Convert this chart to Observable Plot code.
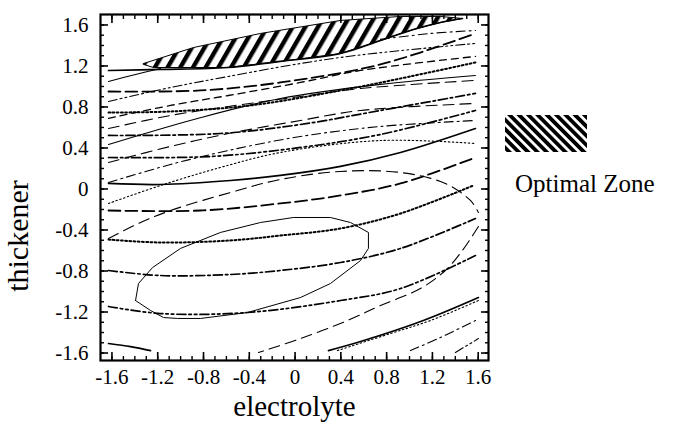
<!DOCTYPE html>
<html><head><meta charset="utf-8">
<script src="https://cdn.jsdelivr.net/npm/d3@7"></script>
<script src="https://cdn.jsdelivr.net/npm/@observablehq/plot@0.6"></script>
<style>
body{margin:0;background:#fff}
#wrap{position:relative;width:674px;height:432px}
#overlay{position:absolute;left:0;top:0;pointer-events:none}
</style>
</head><body><div id="wrap"><div id="chart"></div><svg id="overlay" width="674" height="432"></svg></div>
<script>
// ---- tick values and labels ----
const xTicks = [-1.6,-1.2,-0.8,-0.4,0,0.4,0.8,1.2,1.6];
const xTickLabels = ["-1.6","-1.2","-0.8","-0.4","0","0.4","0.8","1.2","1.6"];
const yTicks = [-1.6,-1.2,-0.8,-0.4,0,0.4,0.8,1.2,1.6];
const yTickLabels = ["-1.6","-1.2","-0.8","-0.4","0","0.4","0.8","1.2","1.6"];
const minorTicks = [-1.6,-1.5,-1.4,-1.3,-1.2,-1.1,-1.0,-0.9,-0.8,-0.7,-0.6,-0.5,-0.4,-0.3,-0.2,-0.1,0,0.1,0.2,0.3,0.4,0.5,0.6,0.7,0.8,0.9,1.0,1.1,1.2,1.3,1.4,1.5,1.6];
const xLabel = "electrolyte";
const yLabel = "thickener";
const legendLabel = "Optimal Zone";

// ---- optimal zone (electrolyte, thickener) ----
const optimalZone = [[-1.324,1.224],[-0.887,1.38],[-0.302,1.517],[0.397,1.644],[0.921,1.683],[1.27,1.683],[1.462,1.663],[1.27,1.624],[1.034,1.556],[0.746,1.449],[0.397,1.322],[-0.128,1.244],[-0.59,1.185],[-1.237,1.185],[-1.324,1.215]];

// ---- contour family 1 ----
const T1 = [[-1.63,1.156],[-1.176,1.166],[-0.59,1.185],[-0.128,1.244],[0.397,1.322],[0.746,1.449],[1.034,1.556],[1.27,1.624],[1.462,1.663]];
const T2 = [[-1.63,0.951],[-0.826,0.961],[-0.128,1.039],[0.746,1.215],[1.576,1.517]];
const T3 = [[-1.63,0.746],[-1.088,0.756],[-0.39,0.815],[0.397,0.961],[1.008,1.098],[1.576,1.234]];
const T4 = [[-1.63,0.522],[-0.652,0.541],[0.047,0.629],[0.746,0.766],[1.576,0.932]];
const T5 = [[-1.63,0.307],[-0.739,0.317],[0.047,0.405],[0.746,0.532],[1.576,0.766]];
const T6 = [[-1.63,0.054],[-1.176,0.044],[-0.564,0.083],[-0.128,0.132],[0.397,0.22],[0.921,0.356],[1.576,0.59]];
const T7 = [[-1.63,-0.21],[-0.826,-0.21],[-0.128,-0.141],[0.397,-0.063],[0.921,0.054],[1.576,0.307]];
const T8 = [[-1.63,-0.493],[-1.176,-0.522],[-0.564,-0.502],[-0.128,-0.454],[0.397,-0.385],[0.921,-0.239],[1.558,0.034]];
const T9 = [[-1.63,-0.795],[-1.176,-0.844],[-0.564,-0.834],[-0.128,-0.795],[0.397,-0.717],[0.921,-0.58],[1.576,-0.288]];
const T10 = [[-1.63,-1.146],[-1.176,-1.215],[-0.416,-1.205],[0.397,-1.088],[0.921,-0.971],[1.576,-0.649]];
const T11a = [[-1.63,-1.507],[-1.437,-1.537],[-1.263,-1.576]];
const T11b = [[0.292,-1.576],[0.572,-1.488],[1.121,-1.283],[1.602,-1.059]];

// ---- contour family 2 ----
const L0 = [[0.746,1.459],[1.183,1.517],[1.576,1.546]];
const L1 = [[-1.63,1.049],[-1.394,1.117],[-1.176,1.176]];
const L2 = [[-1.63,0.854],[-1.088,0.99],[-0.582,1.098],[0.047,1.224],[0.528,1.302],[1.576,1.42]];
const L3 = [[-1.63,0.688],[-1.088,0.815],[-0.582,0.912],[0.047,1.039],[0.572,1.156],[1.576,1.293]];
const L4 = [[-1.63,0.59],[-1.088,0.717],[-0.582,0.805],[0.047,0.902],[0.572,0.98],[1.576,1.059]];
const L5 = [[-1.63,0.434],[-0.852,0.688],[-0.128,0.883],[0.746,1.02],[1.576,1.107]];
const L6 = [[-1.63,0.259],[-1.088,0.415],[-0.582,0.541],[0.047,0.668],[0.572,0.766],[1.576,0.834]];
const L7 = [[-1.63,0.063],[-1.088,0.239],[-0.582,0.376],[0.047,0.512],[0.746,0.61],[1.576,0.668]];
const L8 = [[-1.63,-0.141],[-1.176,0.034],[-0.652,0.21],[-0.128,0.356],[0.746,0.473],[1.576,0.444]];

// ---- contour family 3 (dashed ellipse, lower right) ----
const E1 = [[-1.63,-0.483],[-1.35,-0.327],[-1.088,-0.21],[-0.564,-0.034],[-0.128,0.093],[0.397,0.171],[0.921,0.161],[1.313,0.054],[1.532,-0.112],[1.602,-0.229]];
const E2 = [[1.602,-0.366],[1.462,-0.6],[1.313,-0.795],[1.095,-0.971],[0.746,-1.137],[0.458,-1.283],[0.047,-1.459],[-0.32,-1.595]];
const R2 = [[0.37,-1.576],[0.833,-1.41],[1.183,-1.283],[1.602,-1.088]];
const R3 = [[1.008,-1.576],[1.27,-1.449],[1.576,-1.283]];
const R4 = [[1.401,-1.595],[1.602,-1.459]];

// ---- closed solid contour ----
const S = [[-1.394,-1.088],[-1.368,-0.922],[-1.245,-0.766],[-1.001,-0.58],[-0.652,-0.424],[-0.302,-0.327],[-0.014,-0.278],[0.309,-0.278],[0.484,-0.327],[0.641,-0.424],[0.641,-0.58],[0.572,-0.698],[0.309,-0.922],[0.047,-1.059],[-0.416,-1.205],[-0.826,-1.263],[-1.027,-1.263],[-1.149,-1.254],[-1.263,-1.185],[-1.394,-1.088]];

// ---- styles ----
const STY = {
  solid:{w:1.7,dash:null}, solidThin:{w:1.1,dash:null},
  longDash:{w:1.8,dash:"12,5"}, longDashThin:{w:1.1,dash:"11,6"},
  dash:{w:1.3,dash:"7,5"},
  dotted:{w:2,dash:"1.8,2.4"}, dottedThin:{w:1.1,dash:"1.5,2.5"},
  dashDot:{w:1.7,dash:"9,3,2.5,3"}, dashDotThin:{w:1.1,dash:"9,4,2,4"},
  dashDotDot:{w:1.7,dash:"9,3,2.5,3,2.5,3"}, dashDotDotThin:{w:1.1,dash:"9,3,2,3,2,3"}
};
const contours = [
  [T1,"solid"],[T2,"longDash"],[T3,"dotted"],[T4,"dashDot"],[T5,"dashDotDot"],[T6,"solid"],[T7,"longDash"],[T8,"dotted"],[T9,"dashDot"],[T10,"dashDotDot"],[T11a,"solid"],[T11b,"solid"],
  [L0,"dashDotThin"],[L1,"solidThin"],[L2,"dashDotDotThin"],[L3,"dash"],[L4,"longDashThin"],[L5,"solidThin"],[L6,"longDashThin"],[L7,"dashDotThin"],[L8,"dottedThin"],
  [E1,"longDashThin"],[E2,"longDashThin"],[R2,"dottedThin"],[R3,"dashDotThin"],[R4,"dashDotDotThin"]
];

const xFmt = new Map(xTicks.map((t,i)=>[t,xTickLabels[i]]));
const yFmt = new Map(yTicks.map((t,i)=>[t,yTickLabels[i]]));
const FONT = "'Liberation Serif', 'Times New Roman', serif";

const marks = [
  Plot.line(optimalZone, {x:d=>d[0], y:d=>d[1], curve:"linear-closed", fill:"url(#hatchPlot)", stroke:"black", strokeWidth:1}),
  ...contours.map(([pts,s]) => Plot.line(pts, {x:d=>d[0], y:d=>d[1], curve:"catmull-rom", stroke:"black", strokeWidth:STY[s].w, strokeDasharray:STY[s].dash, clip:true})),
  Plot.line(S, {x:d=>d[0], y:d=>d[1], curve:"linear", stroke:"black", strokeWidth:1}),
  // ticks (inward) on all four sides
  Plot.axisX(xTicks, {anchor:"bottom", tickSize:-8, strokeWidth:1.6, tickFormat:()=>"", label:null}),
  Plot.axisX(minorTicks, {anchor:"bottom", tickSize:-4, strokeWidth:1.4, tickFormat:()=>"", label:null}),
  Plot.axisX(xTicks, {anchor:"top", tickSize:-8, strokeWidth:1.6, tickFormat:()=>"", label:null}),
  Plot.axisX(minorTicks, {anchor:"top", tickSize:-4, strokeWidth:1.4, tickFormat:()=>"", label:null}),
  Plot.axisY(yTicks, {anchor:"left", tickSize:-8, strokeWidth:1.6, tickFormat:()=>"", label:null}),
  Plot.axisY(minorTicks, {anchor:"left", tickSize:-4, strokeWidth:1.4, tickFormat:()=>"", label:null}),
  Plot.axisY(yTicks, {anchor:"right", tickSize:-8, strokeWidth:1.6, tickFormat:()=>"", label:null}),
  Plot.axisY(minorTicks, {anchor:"right", tickSize:-4, strokeWidth:1.4, tickFormat:()=>"", label:null}),
  // tick labels
  Plot.axisX(xTicks, {anchor:"bottom", tickSize:0, tickPadding:9, tickFormat:d=>xFmt.get(d), fontSize:21, label:null}),
  Plot.axisY(yTicks, {anchor:"left", tickSize:0, tickPadding:12, tickFormat:d=>yFmt.get(d), fontSize:21, label:null}),
  Plot.frame({stroke:"black", strokeWidth:2.2}),
  Plot.text([xLabel], {text:d=>d, frameAnchor:"bottom", dy:55, fontSize:29})
];

const svg = Plot.plot({
  width:674, height:432,
  marginLeft:100, marginRight:186, marginTop:14, marginBottom:72,
  x:{domain:[-1.70,1.69]},
  y:{domain:[-1.673,1.702]},
  style:{fontFamily:FONT, fontSize:"20px", background:"white", color:"black", overflow:"visible"},
  marks
});
const defs = document.createElementNS("http://www.w3.org/2000/svg","defs");
defs.innerHTML = '<pattern id="hatchPlot" patternUnits="userSpaceOnUse" width="11" height="11" patternTransform="rotate(30)"><rect x="0" y="0" width="4.4" height="11" fill="black"/></pattern>';
svg.insertBefore(defs, svg.firstChild);
document.getElementById("chart").appendChild(svg);

// overlay: y-axis title and legend
const ov = d3.select("#overlay");
ov.append("text").attr("transform","translate(28,236) rotate(-90)").attr("text-anchor","middle")
  .attr("font-family",FONT).attr("font-size",30).attr("fill","black").text(yLabel);
ov.append("defs").html('<pattern id="hatchLeg" patternUnits="userSpaceOnUse" width="6.6" height="6.6" patternTransform="rotate(-45)"><rect x="0" y="0" width="3.8" height="6.6" fill="black"/></pattern>');
ov.append("rect").attr("x",505).attr("y",115).attr("width",82).attr("height",37).attr("fill","url(#hatchLeg)");
ov.append("text").attr("x",515).attr("y",192).attr("font-family",FONT).attr("font-size",25).attr("fill","black").text(legendLabel);
</script>
</body></html>
